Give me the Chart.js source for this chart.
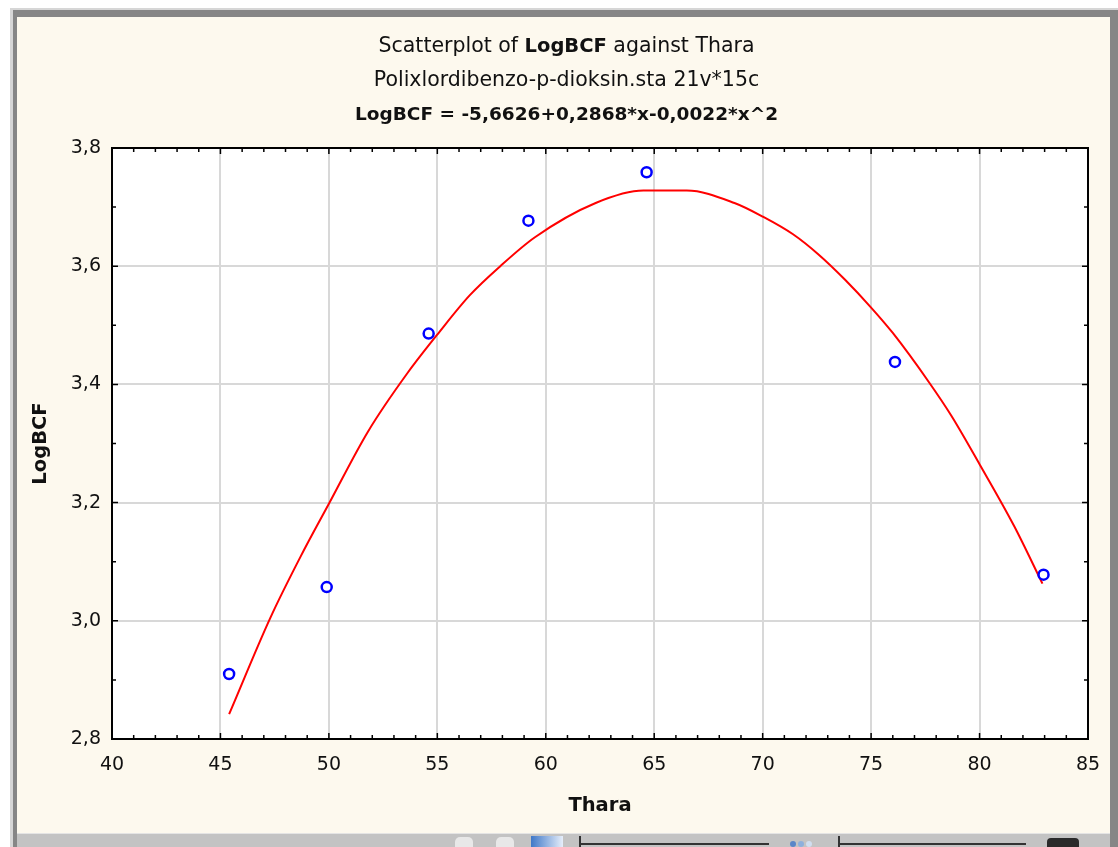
<!DOCTYPE html>
<html>
<head>
<meta charset="utf-8">
<script src="https://cdn.jsdelivr.net/npm/chart.js@4.4.1/dist/chart.umd.min.js"></script>
<style>
    html, body { margin: 0; padding: 0; width: 1118px; height: 847px; overflow: hidden; background: #fff; }
    #frame { position: absolute; left: 10px; top: 8px; width: 1108px; height: 839px; box-sizing: border-box;
             background: #868686; border-top: 2px solid #d6d6d6; border-left: 3px solid #d6d6d6; }
    #wrap { position: absolute; left: 17px; top: 17px; width: 1093px; height: 816px; background: #fdf9ee; }
    #toolbar { position: absolute; left: 17px; top: 833px; width: 1093px; height: 14px; box-sizing: border-box;
               background: #c3c3c3; border-top: 1px solid #e4e4e4; }
    .tb { position: absolute; }
</style>
</head>
<body>
<div id="frame"></div>
<div id="wrap"><canvas id="chart" width="1093" height="816"></canvas></div>
<div id="toolbar">
    <div class="tb" style="left:438px;top:3px;width:18px;height:11px;background:#e8e8e8;border-radius:5px 5px 0 0;"></div>
    <div class="tb" style="left:479px;top:3px;width:18px;height:11px;background:#e8e8e8;border-radius:5px 5px 0 0;"></div>
    <div class="tb" style="left:514px;top:2px;width:32px;height:12px;background:linear-gradient(90deg,#3f78c8,#e6eefa);"></div>
    <div class="tb" style="left:562px;top:2px;width:2px;height:12px;background:#333;"></div>
    <div class="tb" style="left:562px;top:9px;width:190px;height:2px;background:#333;"></div>
    <div class="tb" style="left:773px;top:7px;width:6px;height:6px;border-radius:3px;background:#5a86c8;"></div>
    <div class="tb" style="left:781px;top:7px;width:6px;height:6px;border-radius:3px;background:#8eb0dc;"></div>
    <div class="tb" style="left:789px;top:7px;width:6px;height:6px;border-radius:3px;background:#d0def0;"></div>
    <div class="tb" style="left:821px;top:2px;width:2px;height:12px;background:#333;"></div>
    <div class="tb" style="left:821px;top:9px;width:188px;height:2px;background:#333;"></div>
    <div class="tb" style="left:1030px;top:4px;width:32px;height:10px;background:#2a2a2a;border-radius:4px 4px 0 0;"></div>
</div>
<script>
// ===============================
// DATA
// ===============================
const titleLine1 = ["Scatterplot of ", "LogBCF", " against Thara"];
const titleLine2 = "Polixlordibenzo-p-dioksin.sta 21v*15c";
const titleLine3 = "LogBCF = -5,6626+0,2868*x-0,0022*x^2";

const xTicks = [40, 45, 50, 55, 60, 65, 70, 75, 80, 85];
const yTicks = [2.8, 3.0, 3.2, 3.4, 3.6, 3.8];

// observed cases
const thara  = [45.4, 49.9, 54.6, 59.2, 64.65, 76.1, 82.95];
const logBCF = [2.910, 3.057, 3.486, 3.677, 3.759, 3.438, 3.078];

// fitted curve
const fitX = [45.4, 47.3, 48.7, 50.0, 51.8, 53.6, 55.1, 56.5, 57.9, 59.5, 62.3, 64.5, 66.5,
              68.7, 70.0, 71.4, 72.6, 73.8, 75.0, 76.0, 77.7, 78.7, 80.0, 81.6, 82.9];
const fitY = [2.842, 3.005, 3.109, 3.198, 3.320, 3.418, 3.489, 3.551, 3.600, 3.649, 3.707, 3.728, 3.728,
              3.707, 3.684, 3.654, 3.619, 3.577, 3.530, 3.487, 3.402, 3.347, 3.265, 3.160, 3.063];

const FONT = "'DejaVu Sans', sans-serif";
const TEXT = "#111";

// ===============================
// PLUGINS
// ===============================
const plotBackground = {
    id: "plotBackground",
    beforeDraw(chart) {
        const { ctx, chartArea: a } = chart;
        ctx.save();
        ctx.fillStyle = "#ffffff";
        ctx.fillRect(a.left, a.top, a.right - a.left, a.bottom - a.top);
        ctx.restore();
    }
};

// STATISTICA style frame with inward ticks on all four sides
const frameTicks = {
    id: "frameTicks",
    afterDraw(chart) {
        const { ctx, chartArea: a, scales: { x, y } } = chart;
        ctx.save();
        ctx.strokeStyle = "#000";
        ctx.lineWidth = 1.5;
        ctx.beginPath();
        for (let v = x.min; v <= x.max + 1e-9; v += 1) {
            const px = x.getPixelForValue(v);
            const len = Math.abs(v % 5) < 1e-9 ? 6 : 4;
            ctx.moveTo(px, a.bottom); ctx.lineTo(px, a.bottom - len);
            ctx.moveTo(px, a.top); ctx.lineTo(px, a.top + len);
        }
        for (let i = 0; ; i++) {
            const v = y.min + i * 0.1;
            if (v > y.max + 1e-9) break;
            const py = y.getPixelForValue(v);
            const len = i % 2 === 0 ? 6 : 4;
            ctx.moveTo(a.left, py); ctx.lineTo(a.left + len, py);
            ctx.moveTo(a.right, py); ctx.lineTo(a.right - len, py);
        }
        ctx.stroke();
        ctx.lineWidth = 2;
        ctx.strokeRect(a.left, a.top, a.right - a.left, a.bottom - a.top);
        ctx.restore();
    }
};

// three line header, first line has a bold variable name
const headerTitle = {
    id: "headerTitle",
    afterDraw(chart) {
        const ctx = chart.ctx;
        const cx = chart.width / 2 + 3;
        ctx.save();
        ctx.fillStyle = TEXT;
        ctx.textBaseline = "alphabetic";
        ctx.textAlign = "left";

        const fonts = [`20.5px ${FONT}`, `bold 19.5px ${FONT}`, `20.5px ${FONT}`];
        let total = 0;
        titleLine1.forEach((s, i) => { ctx.font = fonts[i]; total += ctx.measureText(s).width; });
        let xPos = cx - total / 2;
        titleLine1.forEach((s, i) => {
            ctx.font = fonts[i];
            ctx.fillText(s, xPos, 35);
            xPos += ctx.measureText(s).width;
        });

        ctx.textAlign = "center";
        ctx.font = `20.5px ${FONT}`;
        ctx.fillText(titleLine2, cx, 69);
        ctx.font = `bold 18.5px ${FONT}`;
        ctx.fillText(titleLine3, cx, 103);
        ctx.restore();
    }
};

// ===============================
// CHART
// ===============================
const ctx = document.getElementById("chart");

new Chart(ctx, {
    type: "scatter",
    data: {
        datasets: [
            {
                label: "Fit",
                data: fitX.map((v, i) => ({ x: v, y: fitY[i] })),
                showLine: true,
                borderColor: "#ff0000",
                borderWidth: 2,
                pointRadius: 0,
                cubicInterpolationMode: "monotone",
                fill: false,
                order: 2
            },
            {
                label: "LogBCF",
                data: thara.map((v, i) => ({ x: v, y: logBCF[i] })),
                pointRadius: 5,
                borderWidth: 2.5,
                borderColor: "#0000ff",
                backgroundColor: "#ffffff",
                order: 1
            }
        ]
    },
    options: {
        responsive: false,
        animation: false,
        devicePixelRatio: 1,
        layout: { padding: { top: 131, right: 22, bottom: 0, left: 0 } },
        plugins: {
            legend: { display: false },
            tooltip: { enabled: false }
        },
        scales: {
            x: {
                type: "linear",
                min: 40,
                max: 85,
                afterBuildTicks: s => { s.ticks = xTicks.map(v => ({ value: v })); },
                afterFit: s => { s.height = 94; s.paddingLeft = 0; s.paddingRight = 0; },
                grid: { color: "#d8d8d8", lineWidth: 2, drawTicks: false },
                border: { display: false },
                ticks: { color: TEXT, padding: 15, maxRotation: 0, font: { family: FONT, size: 19 } },
                title: {
                    display: true,
                    text: "Thara",
                    color: TEXT,
                    padding: { top: 0, bottom: 15 },
                    font: { family: FONT, size: 19.5, weight: "bold" }
                }
            },
            y: {
                type: "linear",
                min: 2.8,
                max: 3.8,
                afterBuildTicks: s => { s.ticks = yTicks.map(v => ({ value: v })); },
                afterFit: s => { s.width = 95; },
                grid: { color: "#d8d8d8", lineWidth: 2, drawTicks: false },
                border: { display: false },
                ticks: {
                    color: TEXT,
                    padding: 11,
                    font: { family: FONT, size: 19 },
                    callback: v => v.toFixed(1).replace(".", ",")
                },
                title: {
                    display: true,
                    text: "LogBCF",
                    color: TEXT,
                    padding: { top: 12, bottom: 0 },
                    font: { family: FONT, size: 19.5, weight: "bold" }
                }
            }
        }
    },
    plugins: [plotBackground, frameTicks, headerTitle]
});
</script>
</body>
</html>
